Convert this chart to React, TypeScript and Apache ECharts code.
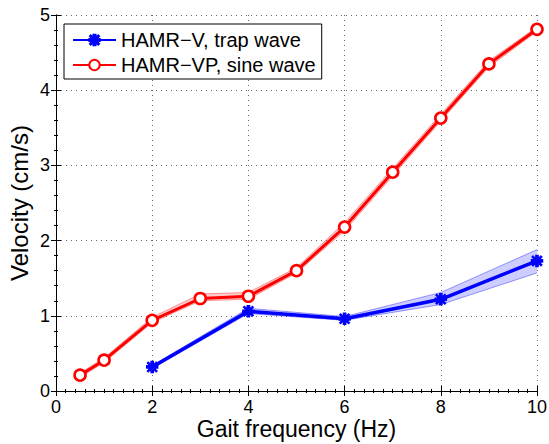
import React, { useEffect, useRef } from "react";
import * as echarts from "echarts";

const seriesNames = ["HAMR−V, trap wave", "HAMR−VP, sine wave"];

const blueX = [2, 4, 6, 8, 10];
const blueY = [0.32, 1.06, 0.96, 1.22, 1.73];
const blueLo = [0.3, 1.03, 0.94, 1.15, 1.57];
const blueHi = [0.34, 1.1, 0.99, 1.31, 1.88];

const redX = [0.5, 1, 2, 3, 4, 5, 6, 7, 8, 9, 10];
const redY = [0.21, 0.41, 0.94, 1.23, 1.26, 1.6, 2.18, 2.91, 3.63, 4.35, 4.81];
const redLo = [0.18, 0.38, 0.91, 1.2, 1.22, 1.57, 2.13, 2.86, 3.59, 4.31, 4.78];
const redHi = [0.24, 0.44, 0.98, 1.29, 1.31, 1.64, 2.24, 2.96, 3.68, 4.39, 4.84];

const xTicks = [0, 2, 4, 6, 8, 10];
const yTicks = [0, 1, 2, 3, 4, 5];

const FONT = "Liberation Sans, Arial, Helvetica, sans-serif";

const asterisk =
  "path://M0,4 L10,4 L10,6 L0,6 Z M4,0 L6,0 L6,10 L4,10 Z M1.4,0.7 L9.3,8.6 L8.6,9.3 L0.7,1.4 Z M8.6,0.7 L9.3,1.4 L1.4,9.3 L0.7,8.6 Z";

function bandSeries(xs: number[], lo: number[], hi: number[], fill: string, edge: string) {
  return {
    type: "custom",
    silent: true,
    z: 1,
    data: xs.map((x, i) => [x, lo[i], hi[i]]),
    encode: { x: 0, y: [1, 2] },
    renderItem: (params: any, api: any) => {
      if (params.dataIndex !== 0) return { type: "group", children: [] };
      const upper = xs.map((x, i) => api.coord([x, hi[i]]));
      const lower = xs.map((x, i) => api.coord([x, lo[i]]));
      const poly = upper.concat(lower.slice().reverse());
      return {
        type: "group",
        children: [
          { type: "polygon", shape: { points: poly }, style: { fill, stroke: "none" } },
          { type: "polyline", shape: { points: upper }, style: { fill: "none", stroke: edge, lineWidth: 1 } },
          { type: "polyline", shape: { points: lower }, style: { fill: "none", stroke: edge, lineWidth: 1 } },
        ],
      };
    },
  };
}

export default function App() {
  const ref = useRef<HTMLDivElement>(null);
  useEffect(() => {
    if (!ref.current) return;
    const chart = echarts.init(ref.current, null, { renderer: "svg" });
    const axisCommon = {
      min: 0,
      axisLine: { show: true, lineStyle: { color: "#000", width: 1 } },
      axisTick: { show: true, inside: true, length: 5, lineStyle: { color: "#000" } },
    };
    chart.setOption({
      animation: false,
      backgroundColor: "#fff",
      textStyle: { fontFamily: FONT },
      grid: { left: 56, right: 12, top: 15, bottom: 53, containLabel: false, outerBoundsMode: "none" },
      legend: {
        data: seriesNames,
        orient: "vertical",
        left: 64,
        top: 24,
        padding: [6, 6, 4, 8],
        itemGap: 5,
        itemWidth: 43,
        itemHeight: 13,
        backgroundColor: "#fff",
        borderColor: "#000",
        borderWidth: 1,
        borderRadius: 0,
        textStyle: { fontSize: 20, color: "#000", fontFamily: FONT, lineHeight: 20 },
      },
      xAxis: [
        {
          ...axisCommon,
          type: "value",
          max: 10,
          interval: 2,
          position: "bottom",
          name: "Gait frequency (Hz)",
          nameLocation: "middle",
          nameGap: 28,
          nameMoveOverlap: false,
          nameTextStyle: { fontSize: 23, color: "#000", fontFamily: FONT, verticalAlign: "top", lineHeight: 20 },
          axisLabel: {
            fontSize: 18,
            lineHeight: 14,
            color: "#000",
            margin: 9,
            fontFamily: FONT,
            formatter: (v: number) => (xTicks.includes(v) ? String(v) : ""),
          },
          minorTick: { show: true, splitNumber: 10, length: 2, lineStyle: { color: "#000" } },
          splitLine: { show: true, lineStyle: { color: "#666", type: [1, 4], width: 1 } },
        },
        {
          ...axisCommon,
          type: "value",
          max: 10,
          interval: 2,
          position: "top",
          axisLabel: { show: false },
          minorTick: { show: true, splitNumber: 10, length: 2, lineStyle: { color: "#000" } },
          splitLine: { show: false },
        },
      ],
      yAxis: [
        {
          ...axisCommon,
          type: "value",
          max: 5,
          interval: 1,
          position: "left",
          name: "Velocity (cm/s)",
          nameLocation: "middle",
          nameGap: 25,
          nameMoveOverlap: false,
          nameTextStyle: { fontSize: 24, color: "#000", fontFamily: FONT },
          axisLabel: {
            fontSize: 18,
            color: "#000",
            margin: 6,
            fontFamily: FONT,
            formatter: (v: number) => (yTicks.includes(v) ? String(v) : ""),
          },
          minorTick: { show: true, splitNumber: 5, length: 2, lineStyle: { color: "#000" } },
          splitLine: { show: true, lineStyle: { color: "#666", type: [1, 4], width: 1 } },
        },
        {
          ...axisCommon,
          type: "value",
          max: 5,
          interval: 1,
          position: "right",
          axisLabel: { show: false },
          minorTick: { show: true, splitNumber: 5, length: 2, lineStyle: { color: "#000" } },
          splitLine: { show: false },
        },
      ],
      series: [
        bandSeries(blueX, blueLo, blueHi, "rgba(90,90,255,0.3)", "rgba(40,40,255,0.45)"),
        bandSeries(redX, redLo, redHi, "rgba(255,90,90,0.3)", "rgba(255,40,40,0.45)"),
        {
          name: seriesNames[0],
          type: "line",
          z: 3,
          data: blueX.map((x, i) => [x, blueY[i]]),
          lineStyle: { color: "#0000ff", width: 3.5 },
          itemStyle: { color: "#0000ff", borderColor: "#0000ff", borderWidth: 1.5 },
          symbol: asterisk,
          symbolSize: 11,
          showSymbol: true,
        },
        {
          name: seriesNames[1],
          type: "line",
          z: 3,
          data: redX.map((x, i) => [x, redY[i]]),
          lineStyle: { color: "#ff0000", width: 3 },
          itemStyle: { color: "#fff", borderColor: "#ff0000", borderWidth: 2.6 },
          symbol: "circle",
          symbolSize: 11,
          showSymbol: true,
        },
      ],
    });
    return () => chart.dispose();
  }, []);
  return <div ref={ref} style={{ width: 549, height: 444, position: "absolute", left: 0, top: 0 }} />;
}
